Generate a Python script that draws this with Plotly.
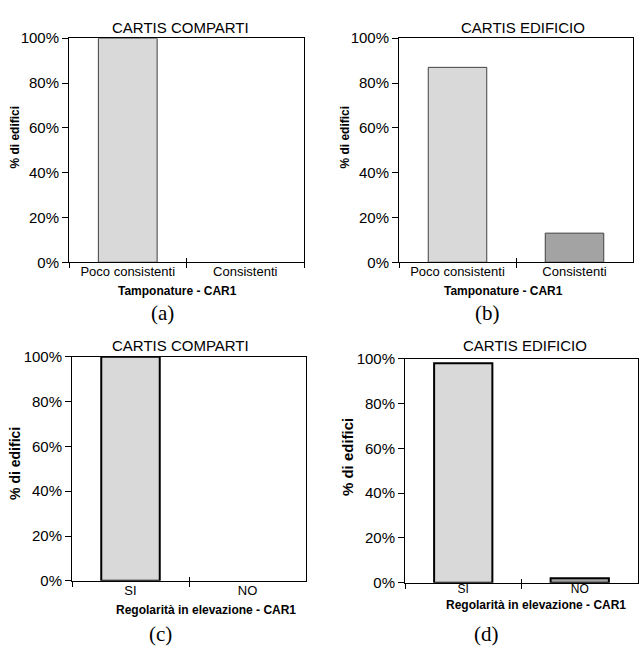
import plotly.graph_objects as go

# ---- data ----
cat_tamp = ["Poco consistenti", "Consistenti"]
cat_reg = ["SI", "NO"]
vals_a = [1.00, 0.00]   # CARTIS COMPARTI - Tamponature
vals_b = [0.87, 0.13]   # CARTIS EDIFICIO - Tamponature
vals_c = [1.00, 0.00]   # CARTIS COMPARTI - Regolarità
vals_d = [0.98, 0.02]   # CARTIS EDIFICIO - Regolarità
titles = ["CARTIS COMPARTI", "CARTIS EDIFICIO", "CARTIS COMPARTI", "CARTIS EDIFICIO"]
xtitles = ["Tamponature - CAR1", "Tamponature - CAR1",
           "Regolarità in elevazione - CAR1", "Regolarità in elevazione - CAR1"]
sublabels = ["(a)", "(b)", "(c)", "(d)"]
ytitle = "% di edifici"
yticks = [0, 0.2, 0.4, 0.6, 0.8, 1.0]

W, H = 639, 657
FONT = "Liberation Sans, Arial, sans-serif"
LIGHT = "#d9d9d9"
DARK = "#a3a3a3"

# pixel boxes of the four plot areas: (x0, x1, ytop, ybottom)
boxes = [(69, 304, 30, 260), (399, 633, 30, 260), (72, 306, 357, 587), (405, 638, 359, 589)]
cats = [cat_tamp, cat_tamp, cat_reg, cat_reg]
vals = [vals_a, vals_b, vals_c, vals_d]
outline = [(1, "#404040"), (1, "#404040"), (2, "#000000"), (2, "#000000")]
standoff = [-3, -3, -2, -5]
xtick_size = [13, 13, 13, 12]

fig = go.Figure()
for i in range(4):
    n = "" if i == 0 else str(i + 1)
    on = str(i + 5)
    lw = [outline[i][0] if v > 0 else 0 for v in vals[i]]
    fig.add_trace(go.Bar(
        x=cats[i], y=vals[i], xaxis="x" + n, yaxis="y" + n,
        marker=dict(color=[LIGHT, DARK], line=dict(width=lw, color=outline[i][1])),
        width=0.5, showlegend=False, hoverinfo="skip"))
    # invisible copy on an overlaying axis, only to get crossing tick marks
    fig.add_trace(go.Bar(
        x=cats[i], y=vals[i], xaxis="x" + on, yaxis="y" + n,
        marker=dict(color="rgba(0,0,0,0)", line=dict(width=0)),
        width=0.5, showlegend=False, hoverinfo="skip"))
    x0, x1, yt, yb = boxes[i]
    fig.layout["xaxis" + n] = dict(
        domain=[x0 / W, x1 / W], anchor="y" + n, type="category",
        showline=True, linecolor="black", linewidth=1, mirror=True,
        ticks="outside", ticklen=5, tickcolor="black", tickson="boundaries",
        showgrid=False, tickfont=dict(family=FONT, size=xtick_size[i], color="black"),
        ticklabelstandoff=standoff[i], fixedrange=True)
    fig.layout["xaxis" + on] = dict(
        overlaying="x" + n, anchor="y" + n, type="category", side="bottom",
        showline=False, ticks="inside", ticklen=4, tickcolor="black", tickson="boundaries",
        showgrid=False, showticklabels=False, fixedrange=True)
    fig.layout["yaxis" + n] = dict(
        domain=[1 - yb / H, 1 - yt / H], anchor="x" + n, range=[0, 1],
        tickvals=yticks, tickformat=".0%",
        showline=True, linecolor="black", linewidth=1, mirror=True,
        ticks="outside", ticklen=6, tickcolor="black",
        showgrid=False, zeroline=False,
        tickfont=dict(family=FONT, size=15, color="black"), fixedrange=True)

ann = []
title_pos = [(180, 19), (523, 19), (180, 345), (525, 345)]
xt_pos = [(177, 289), (504, 289), (206, 617), (536, 612)]
yt_pos = [(15, 132), (345, 132), (15, 467), (347, 460)]
yt_size = [12, 12, 14, 15]
sub_pos = [(162, 312), (487, 312), (161, 642), (486, 642)]
for i in range(4):
    ann.append(dict(text=titles[i], x=title_pos[i][0] / W, y=1 - title_pos[i][1] / H,
                    xref="paper", yref="paper", showarrow=False, xanchor="center", yanchor="middle",
                    font=dict(family=FONT, size=15, color="black")))
    ann.append(dict(text="<b>" + xtitles[i] + "</b>", x=xt_pos[i][0] / W, y=1 - xt_pos[i][1] / H,
                    xref="paper", yref="paper", showarrow=False, xanchor="center", yanchor="middle",
                    font=dict(family=FONT, size=12, color="black")))
    ann.append(dict(text="<b>" + ytitle + "</b>", x=yt_pos[i][0] / W, y=1 - yt_pos[i][1] / H,
                    xref="paper", yref="paper", showarrow=False, xanchor="center", yanchor="middle",
                    textangle=-90, font=dict(family=FONT, size=yt_size[i], color="black")))
    ann.append(dict(text=sublabels[i], x=sub_pos[i][0] / W, y=1 - sub_pos[i][1] / H,
                    xref="paper", yref="paper", showarrow=False, xanchor="center", yanchor="middle",
                    font=dict(family="Liberation Serif, Times New Roman, serif", size=21, color="black")))

fig.update_layout(width=W, height=H, margin=dict(l=0, r=0, t=0, b=0, pad=0),
                  paper_bgcolor="white", plot_bgcolor="white", bargap=0.5,
                  annotations=ann)
fig.write_html("out.html", config={"displayModeBar": False})
